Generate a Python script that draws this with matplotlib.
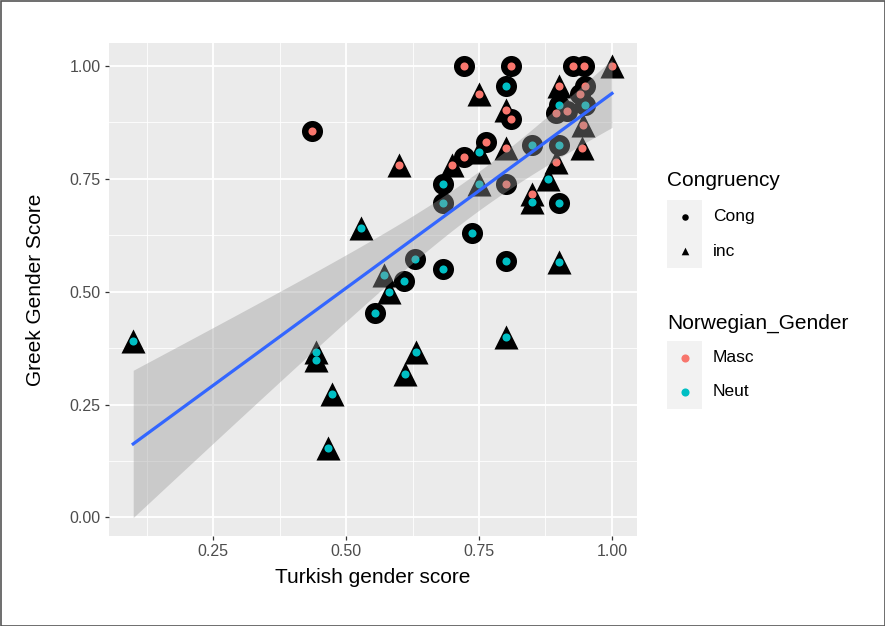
import numpy as np
import matplotlib.pyplot as plt
from matplotlib.patches import Rectangle

plt.rcParams['font.family'] = ['Liberation Sans', 'DejaVu Sans']

# Turkish vs Greek gender scores, split by congruency and Norwegian gender
cong_masc_x = [0.437, 0.722, 0.811, 0.926, 0.947, 0.949, 0.940, 0.894, 0.916, 0.811, 0.763, 0.722, 0.800]
cong_masc_y = [0.857, 1.000, 1.000, 1.000, 1.000, 0.956, 0.937, 0.895, 0.900, 0.882, 0.832, 0.799, 0.739]
cong_neut_x = [0.800, 0.900, 0.949, 0.900, 0.850, 0.900, 0.683, 0.683, 0.736, 0.630, 0.683, 0.800, 0.609, 0.555]
cong_neut_y = [0.956, 0.914, 0.914, 0.825, 0.825, 0.696, 0.739, 0.696, 0.631, 0.572, 0.550, 0.569, 0.524, 0.454]
inc_masc_x = [1.000, 0.750, 0.900, 0.800, 0.800, 0.700, 0.600, 0.894, 0.850, 0.946, 0.944]
inc_masc_y = [1.000, 0.937, 0.956, 0.903, 0.818, 0.781, 0.781, 0.788, 0.717, 0.869, 0.818]
inc_neut_x = [0.750, 0.750, 0.880, 0.850, 0.900, 0.571, 0.580, 0.529, 0.632, 0.611, 0.800,
              0.473, 0.466, 0.444, 0.444, 0.100]
inc_neut_y = [0.809, 0.739, 0.749, 0.698, 0.567, 0.537, 0.500, 0.642, 0.367, 0.318, 0.400,
              0.273, 0.153, 0.367, 0.349, 0.391]

x_ticks = [0.25, 0.50, 0.75, 1.00]
y_ticks = [0.00, 0.25, 0.50, 0.75, 1.00]

MASC = '#F8766D'
NEUT = '#00BFC4'

groups = [
    (cong_masc_x, cong_masc_y, 'o', MASC),
    (cong_neut_x, cong_neut_y, 'o', NEUT),
    (inc_masc_x, inc_masc_y, '^', MASC),
    (inc_neut_x, inc_neut_y, '^', NEUT),
]

fig = plt.figure(figsize=(8.85, 6.26), dpi=100)
ax = fig.add_axes([109 / 885, 90 / 626, 528 / 885, 493 / 626])
ax.set_facecolor('#EBEBEB')
for s in ax.spines.values():
    s.set_visible(False)

ax.set_xlim(0.0545, 1.047)
ax.set_ylim(-0.041, 1.051)
ax.set_xticks(x_ticks)
ax.set_xticklabels([f'{v:.2f}' for v in x_ticks])
ax.set_yticks(y_ticks)
ax.set_yticklabels([f'{v:.2f}' for v in y_ticks])
ax.set_xticks([0.125, 0.375, 0.625, 0.875], minor=True)
ax.set_yticks([0.125, 0.375, 0.625, 0.875], minor=True)
ax.grid(which='major', color='white', lw=1.3)
ax.grid(which='minor', color='white', lw=0.6)
ax.set_axisbelow(True)
ax.tick_params(which='major', length=3, width=0.9, color='#333333',
               labelsize=11.5, labelcolor='#4D4D4D', pad=3)
ax.tick_params(which='minor', length=0)

# big black shapes first, coloured dots on top
for x, y, m, c in groups:
    ax.scatter(x, y, marker=m, s=230 if m == 'o' else 300, color='black', lw=0, zorder=2)
for x, y, m, c in groups:
    ax.scatter(x, y, marker='o', s=34, color=c, lw=0, zorder=3)

# linear fit with 95% confidence band
all_x = np.array(cong_masc_x + cong_neut_x + inc_masc_x + inc_neut_x)
all_y = np.array(cong_masc_y + cong_neut_y + inc_masc_y + inc_neut_y)
n = len(all_x)
slope, icpt = np.polyfit(all_x, all_y, 1)
resid = all_y - (slope * all_x + icpt)
se = np.sqrt(np.sum(resid ** 2) / (n - 2))
xs = np.linspace(all_x.min(), all_x.max(), 100)
fit = slope * xs + icpt
band = 2.007 * se * np.sqrt(1 / n + (xs - all_x.mean()) ** 2 / np.sum((all_x - all_x.mean()) ** 2))
ax.fill_between(xs, fit - band, fit + band, color='#999999', alpha=0.4, lw=0, zorder=4)
ax.plot(xs, fit, color='#3366FF', lw=2.3, zorder=5)

ax.set_xlabel('Turkish gender score', fontsize=15, color='black', labelpad=6)
ax.set_ylabel('Greek Gender Score', fontsize=15, color='black', labelpad=18)

# legends and frame drawn in pixel space
lax = fig.add_axes([0, 0, 1, 1], zorder=10)
lax.set_xlim(0, 885)
lax.set_ylim(626, 0)
lax.axis('off')
lax.add_patch(Rectangle((0.5, 0.5), 884, 625, fill=False, ec='#555555', lw=1.2))


def legend_block(title, y_title, y_box, entries):
    lax.text(667, y_title, title, fontsize=15, va='center', ha='left')
    lax.add_patch(Rectangle((667, y_box), 35, 34 * len(entries), color='#F2F2F2', lw=0))
    for i, (label, marker, color, size) in enumerate(entries):
        yc = y_box + 17 + 34 * i
        lax.scatter([684.5], [yc], marker=marker, s=size, color=color, lw=0)
        lax.text(713, yc, label, fontsize=12.5, va='center', ha='left')


legend_block('Congruency', 181, 200, [('Cong', 'o', 'black', 22), ('inc', '^', 'black', 30)])
legend_block('Norwegian_Gender', 323, 341, [('Masc', 'o', MASC, 34), ('Neut', 'o', NEUT, 34)])

fig.savefig('out.png', dpi=100)
